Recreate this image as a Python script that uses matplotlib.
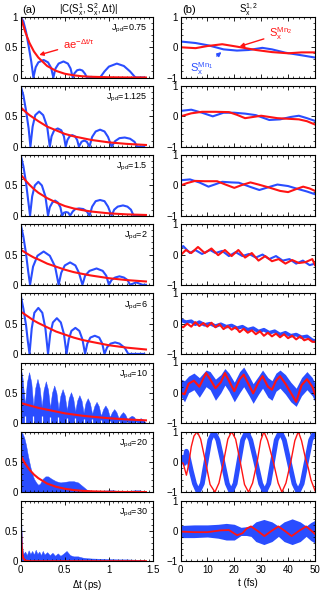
import numpy as np
import matplotlib.pyplot as plt
from matplotlib.ticker import MultipleLocator

plt.rcParams['font.family'] = ['Liberation Sans', 'DejaVu Sans']
plt.rcParams['mathtext.fontset'] = 'custom'
plt.rcParams['mathtext.rm'] = 'Liberation Sans'
plt.rcParams['mathtext.it'] = 'Liberation Sans:italic'
plt.rcParams['mathtext.sf'] = 'Liberation Sans'

BLUE = '#2a4dff'
RED = '#ff1414'

# ---------------- (a) |C(Sx1,Sx2,dt)| ----------------
jpd = ['0.75', '1.125', '1.5', '2', '6', '10', '20', '30']

# blue curves, panels 1-5 (lines)
a1_t = [0, 0.03, 0.06, 0.09, 0.12, 0.144, 0.17, 0.2, 0.26, 0.31, 0.345, 0.37, 0.395, 0.43, 0.485, 0.535,
        0.565, 0.59, 0.61, 0.64, 0.67, 0.7, 0.73, 0.75, 0.8, 0.85, 0.9, 0.95, 1.0, 1.09, 1.17, 1.24, 1.3, 1.4]
a1_v = [1.0, 0.93, 0.76, 0.52, 0.26, 0.0, 0.17, 0.25, 0.29, 0.25, 0.16, 0.0, 0.15, 0.23, 0.265, 0.23,
        0.15, 0.0, 0.07, 0.12, 0.13, 0.115, 0.06, 0.0, 0.01, 0.0, 0.0, 0.1, 0.18, 0.23, 0.19, 0.1, 0.0, 0.0]

a2_t = [0, 0.03, 0.06, 0.09, 0.11, 0.135, 0.165, 0.21, 0.255, 0.3, 0.33, 0.35, 0.38, 0.42, 0.46, 0.49, 0.51,
        0.53, 0.555, 0.585, 0.615, 0.64, 0.66, 0.69, 0.72, 0.75, 0.78, 0.81, 0.85, 0.9, 0.95, 0.99, 1.03,
        1.07, 1.12, 1.18, 1.24, 1.29, 1.32, 1.4]
a2_v = [1.0, 0.85, 0.6, 0.3, 0.0, 0.33, 0.52, 0.58, 0.52, 0.33, 0.0, 0.17, 0.27, 0.3, 0.27, 0.17, 0.0,
        0.11, 0.17, 0.19, 0.17, 0.11, 0.0, 0.08, 0.1, 0.08, 0.0, 0.16, 0.25, 0.28, 0.25, 0.16, 0.0,
        0.09, 0.14, 0.15, 0.13, 0.08, 0.0, 0.0]

a3_t = [0, 0.03, 0.06, 0.085, 0.106, 0.13, 0.16, 0.2, 0.24, 0.28, 0.31, 0.33, 0.36, 0.39, 0.42, 0.45, 0.47,
        0.49, 0.515, 0.54, 0.56, 0.59, 0.62, 0.66, 0.71, 0.75, 0.78, 0.81, 0.85, 0.9, 0.95, 0.99, 1.03,
        1.06, 1.1, 1.16, 1.21, 1.25, 1.28, 1.4]
a3_v = [1.0, 0.82, 0.55, 0.25, 0.0, 0.32, 0.5, 0.56, 0.5, 0.32, 0.0, 0.14, 0.22, 0.25, 0.22, 0.14, 0.0,
        0.05, 0.06, 0.05, 0.0, 0.07, 0.11, 0.12, 0.11, 0.07, 0.0, 0.15, 0.24, 0.26, 0.24, 0.15, 0.0,
        0.1, 0.15, 0.17, 0.15, 0.1, 0.0, 0.0]

a4_t = [0, 0.03, 0.06, 0.085, 0.106, 0.14, 0.19, 0.26, 0.33, 0.39, 0.43, 0.46, 0.5, 0.56, 0.62, 0.66, 0.70,
        0.73, 0.78, 0.86, 0.93, 0.97, 1.0, 1.03, 1.07, 1.12, 1.17, 1.21, 1.24, 1.31, 1.38, 1.42]
a4_v = [1.0, 0.8, 0.52, 0.22, 0.0, 0.3, 0.48, 0.55, 0.48, 0.3, 0.0, 0.2, 0.32, 0.37, 0.32, 0.2, 0.0,
        0.15, 0.23, 0.27, 0.23, 0.15, 0.0, 0.08, 0.12, 0.14, 0.12, 0.08, 0.0, 0.04, 0.0, 0.0]

a5_t = [0, 0.03, 0.06, 0.08, 0.1, 0.125, 0.155, 0.2, 0.245, 0.28, 0.31, 0.335, 0.365, 0.41, 0.455, 0.49, 0.52,
        0.545, 0.575, 0.62, 0.665, 0.7, 0.73, 0.755, 0.79, 0.84, 0.89, 0.925, 0.95, 0.98, 1.02, 1.07,
        1.12, 1.18, 1.22, 1.4]
a5_v = [0.97, 0.75, 0.48, 0.22, 0.0, 0.42, 0.68, 0.76, 0.68, 0.42, 0.0, 0.33, 0.52, 0.59, 0.52, 0.33, 0.0,
        0.24, 0.38, 0.43, 0.38, 0.24, 0.0, 0.17, 0.27, 0.30, 0.27, 0.17, 0.0, 0.11, 0.17, 0.19,
        0.17, 0.1, 0.0, 0.0]

# filled envelopes, panels 6-8
a6_t = [0.0, 0.02, 0.048, 0.07, 0.095, 0.12, 0.143, 0.165, 0.19, 0.215, 0.238, 0.26, 0.285, 0.31, 0.333,
        0.355, 0.38, 0.405, 0.428, 0.45, 0.475, 0.5, 0.523, 0.545, 0.57, 0.595, 0.618, 0.64, 0.665, 0.69,
        0.713, 0.735, 0.76, 0.785, 0.81, 0.835, 0.86, 0.885, 0.91, 0.935, 0.96, 0.985, 1.01, 1.035, 1.06,
        1.085, 1.11, 1.135, 1.16, 1.185, 1.21, 1.235, 1.26, 1.285, 1.31, 1.335, 1.36, 1.385, 1.42]
a6_v = [0.92, 0.75, 0.3, 0.67, 0.84, 0.67, 0.28, 0.58, 0.73, 0.58, 0.27, 0.55, 0.69, 0.55, 0.25,
        0.5, 0.62, 0.5, 0.23, 0.45, 0.56, 0.45, 0.21, 0.41, 0.51, 0.41, 0.19, 0.37, 0.46, 0.37,
        0.17, 0.33, 0.41, 0.33, 0.15, 0.28, 0.35, 0.28, 0.12, 0.23, 0.29, 0.23, 0.1, 0.18, 0.23,
        0.18, 0.08, 0.14, 0.18, 0.14, 0.06, 0.1, 0.12, 0.1, 0.04, 0.06, 0.08, 0.06, 0.0]
# narrow white slits at the bottom between the J=10 teeth
a6_slit_t = [0.048, 0.143, 0.238, 0.333, 0.428, 0.523, 0.618, 0.713, 0.81, 0.91, 1.01, 1.11, 1.21, 1.31]
a6_slit_h = [0.12, 0.12, 0.11, 0.1, 0.1, 0.09, 0.08, 0.07, 0.06, 0.05, 0.04, 0.03, 0.02, 0.02]

a7_t = [0, 0.02, 0.04, 0.06, 0.08, 0.1, 0.12, 0.15, 0.18, 0.2, 0.22, 0.25, 0.28, 0.31, 0.35, 0.4, 0.45,
        0.5, 0.55, 0.6, 0.65, 0.7, 0.75, 0.8, 0.9, 1.0, 1.05, 1.1, 1.2, 1.3, 1.35, 1.4]
a7_v = [1.0, 0.97, 0.9, 0.78, 0.62, 0.48, 0.35, 0.22, 0.15, 0.12, 0.14, 0.22, 0.26, 0.26, 0.22, 0.18, 0.16,
        0.17, 0.18, 0.18, 0.16, 0.1, 0.04, 0.02, 0.02, 0.03, 0.03, 0.02, 0.02, 0.03, 0.03, 0.01]

a8_t = [0, 0.01, 0.02, 0.03, 0.05, 0.07, 0.09, 0.11, 0.13, 0.15, 0.17, 0.19, 0.21, 0.23, 0.25, 0.27, 0.3,
        0.33, 0.36, 0.39, 0.42, 0.45, 0.48, 0.52, 0.56, 0.6, 0.65, 0.7, 0.75, 0.8, 0.9, 1.0, 1.1, 1.2, 1.3, 1.4]
a8_v = [0.88, 0.5, 0.2, 0.12, 0.16, 0.1, 0.18, 0.12, 0.17, 0.11, 0.19, 0.12, 0.16, 0.1, 0.17, 0.11, 0.15,
        0.1, 0.14, 0.09, 0.13, 0.09, 0.12, 0.17, 0.1, 0.08, 0.08, 0.06, 0.05, 0.045, 0.04, 0.035, 0.03, 0.03,
        0.025, 0.02]

blue_t = [a1_t, a2_t, a3_t, a4_t, a5_t, a6_t, a7_t, a8_t]
blue_v = [a1_v, a2_v, a3_v, a4_v, a5_v, a6_v, a7_v, a8_v]

# red fits a*exp(-dt/tau)
red_t = [0, 0.05, 0.1, 0.15, 0.2, 0.3, 0.4, 0.5, 0.6, 0.7, 0.8, 1.0, 1.2, 1.42]
red_v = [
    [1.0, 0.76, 0.57, 0.43, 0.33, 0.19, 0.11, 0.062, 0.036, 0.02, 0.012, 0.004, 0.001, 0.0],
    [0.65, 0.58, 0.52, 0.47, 0.42, 0.33, 0.27, 0.21, 0.17, 0.14, 0.11, 0.07, 0.045, 0.027],
    [0.68, 0.59, 0.51, 0.44, 0.38, 0.29, 0.22, 0.16, 0.12, 0.092, 0.069, 0.039, 0.022, 0.012],
    [0.58, 0.535, 0.49, 0.45, 0.42, 0.35, 0.30, 0.25, 0.21, 0.18, 0.153, 0.109, 0.078, 0.055],
    [0.70, 0.65, 0.60, 0.55, 0.51, 0.44, 0.37, 0.32, 0.27, 0.23, 0.20, 0.143, 0.104, 0.073],
    [0.33, 0.31, 0.29, 0.27, 0.25, 0.22, 0.19, 0.16, 0.14, 0.12, 0.105, 0.079, 0.059, 0.044],
    [0.6, 0.47, 0.37, 0.29, 0.23, 0.14, 0.089, 0.055, 0.034, 0.021, 0.013, 0.005, 0.002, 0.001],
]
red8_t = [0, 0.01, 0.02, 0.03, 0.05, 0.1, 1.42]
red8_v = [0.6, 0.26, 0.11, 0.05, 0.01, 0.0, 0.0]

# ---------------- (b) Sx^{1,2}(t) ----------------
b1_bt = [0, 5.6, 10.5, 16, 21, 25.4, 30.4, 34, 39, 45.3, 50]
b1_bv = [0.19, 0.14, 0.06, -0.07, -0.11, -0.09, -0.02, -0.07, -0.18, -0.27, -0.34]
b1_rt = [0, 5.6, 10, 15.5, 21, 28, 34, 40, 45, 50]
b1_rv = [0.0, -0.03, 0.04, 0.1, 0.02, -0.09, -0.16, -0.2, -0.17, -0.17]

b2_bt = [0, 4, 8, 12, 16, 20, 24, 28, 33, 37, 41, 44, 47, 50]
b2_bv = [0.18, 0.22, 0.12, 0.0, 0.12, 0.12, 0.09, 0.04, -0.12, -0.1, -0.02, 0.02, -0.06, -0.15]
b2_rt = [0, 4, 8, 13, 18, 21, 24, 27, 30, 33, 36, 40, 44, 47, 50]
b2_rv = [0.0, 0.1, 0.15, 0.15, 0.14, 0.05, -0.06, -0.02, 0.02, -0.02, -0.06, -0.08, -0.1, -0.16, -0.27]

b3_bt = [0, 3.5, 7, 10.4, 13, 15.5, 19, 21.7, 26, 29.3, 33, 36, 40, 43, 47, 50]
b3_bv = [0.17, 0.2, 0.1, -0.04, 0.04, 0.12, 0.1, 0.09, -0.05, -0.15, -0.05, 0.03, -0.02, -0.1, -0.2, -0.29]
b3_rt = [0, 2.5, 5.4, 9, 13.6, 17, 20, 23, 26, 29, 33, 37, 40, 43, 45.6, 48, 50]
b3_rv = [0.0, 0.08, 0.15, 0.14, 0.14, 0.02, -0.08, 0.02, 0.1, 0.03, -0.07, -0.18, -0.22, -0.12, -0.04, -0.1, -0.18]

b4_bt = [0, 1, 3.5, 5.5, 8, 11, 13, 15.5, 18, 20.5, 23, 25.5, 28, 30.5, 33, 35.5, 38, 40.5, 43, 45.5, 48, 50]
b4_bv = [0.2, 0.28, 0.05, 0.15, 0.02, 0.15, 0.05, 0.12, -0.05, 0.08, -0.05, 0.02, -0.1, 0.0, -0.15, -0.05,
         -0.2, -0.15, -0.3, -0.2, -0.35, -0.3]
b4_rt = [0, 2, 4, 6.5, 9, 11.5, 14, 16.5, 19, 21.5, 24, 26.5, 29, 31.5, 34, 36.5, 39, 41.5, 44, 46.5, 49, 50]
b4_rv = [-0.02, 0.15, 0.05, 0.25, 0.05, 0.2, -0.02, 0.15, -0.05, 0.15, -0.1, 0.05, -0.2, -0.05, -0.22,
         -0.15, -0.3, -0.18, -0.28, -0.25, -0.15, -0.35]

b5_bt = [0, 2, 4, 5.5, 7, 9, 11, 13, 15, 17, 19, 21, 23, 25, 27, 29, 31, 33, 35, 37, 39, 41, 43, 45, 47, 49, 50]
b5_bv = [0.13, 0.05, 0.08, -0.02, 0.05, -0.04, 0.0, -0.08, -0.02, -0.1, -0.06, -0.15, -0.1, -0.2, -0.15,
         -0.26, -0.2, -0.3, -0.25, -0.36, -0.3, -0.4, -0.36, -0.45, -0.42, -0.55, -0.57]
b5_rt = [0, 1, 2.5, 4, 5.5, 7, 8.5, 10, 11.5, 13, 14.5, 16, 17.5, 19, 20.5, 22, 23.5, 25, 26.5, 28, 29.5,
         31, 32.5, 34, 35.5, 37, 38.5, 40, 41.5, 43, 44.5, 46, 47.5, 49, 50]
b5_rv = [-0.08, -0.12, 0.0, -0.1, 0.05, -0.08, 0.02, -0.1, 0.03, -0.12, -0.02, -0.18, -0.08, -0.2, -0.12,
         -0.28, -0.17, -0.3, -0.22, -0.35, -0.25, -0.4, -0.3, -0.42, -0.33, -0.45, -0.35, -0.48, -0.4,
         -0.52, -0.42, -0.55, -0.5, -0.6, -0.6]

b6_t = [0, 1.5, 3, 5, 7, 9.5, 11, 13, 15, 16.5, 18, 20, 22, 23.5, 25.5, 27, 29, 30.5, 32.5, 34, 35.5, 37,
        39, 41, 43, 45, 47, 49, 50]
b6_rv = [0.0, -0.05, 0.3, 0.4, 0.2, 0.65, 0.45, 0.15, 0.35, 0.65, 0.4, 0.05, 0.45, 0.6, 0.25, -0.02, 0.35,
         0.55, 0.2, 0.1, 0.4, 0.55, 0.3, 0.0, -0.3, 0.25, 0.45, 0.2, -0.05]
b6_up = [0.45, 0.4, 0.55, 0.65, 0.5, 0.75, 0.7, 0.45, 0.6, 0.8, 0.65, 0.35, 0.7, 0.85, 0.55, 0.3, 0.55,
         0.75, 0.5, 0.4, 0.65, 0.75, 0.6, 0.35, 0.15, 0.5, 0.7, 0.5, 0.3]
b6_lo = [-0.1, -0.3, 0.0, 0.1, -0.15, 0.2, 0.1, -0.25, 0.0, 0.25, 0.05, -0.3, 0.0, 0.2, -0.1, -0.35, -0.05,
         0.15, -0.15, -0.25, 0.05, 0.15, -0.05, -0.3, -0.45, -0.1, 0.1, -0.1, -0.3]

b7_bt = [0, 0.8, 1.5, 2.2, 3, 4, 5.2, 6.6, 8.1, 9.5, 10.9, 12.4, 13.9, 15.7, 17.4, 18.8, 20.3, 21.7, 23.1,
         24.6, 26.1, 28, 29.8, 31.3, 32.8, 34.2, 35.6, 37.1, 38.6, 40.4, 42.2, 43.7, 45.2, 46.8, 48.4, 50]
b7_bv = [0.0, 0.15, -0.05, 0.35, 0.1, -0.3, -0.72, -1.0, -0.72, 0.0, 0.72, 1.0, 0.72, 0.0, -0.72, -1.0,
         -0.72, 0.0, 0.72, 1.0, 0.72, 0.0, -0.72, -1.0, -0.72, 0.0, 0.72, 1.0, 0.72, 0.0, -0.72, -1.0,
         -0.72, 0.0, 0.72, 1.0]
b7_rt = [0, 1, 2.2, 3, 4, 5, 6.2, 7.5, 9.3, 11, 12.8, 14.3, 16, 17.6, 19, 20.5, 22.2, 23.8, 25.3, 26.8,
         28.5, 29.8, 31, 32.4, 34.5, 36.3, 37.7, 39.2, 41, 42.5, 43.8, 45, 46.5, 47.5, 48.5, 50]
b7_rv = [0.0, -0.05, -0.44, -0.1, 0.5, 0.85, 1.0, 0.75, 0.0, -0.75, -1.0, -0.7, 0.0, 0.75, 1.0, 0.75, 0.0,
         -0.75, -1.0, -0.7, 0.0, 0.7, 1.0, 0.7, 0.0, -0.7, -1.0, -0.7, 0.0, 0.7, 1.0, 0.7, 0.1, -0.2, -0.6,
         -0.95]

b8_t = [0, 5, 10, 14, 17, 20, 22.5, 24.5, 26.2, 28, 31, 34, 36.4, 38.5, 41.5, 44.5, 46.7, 48.5, 50]
b8_up = [0.18, 0.2, 0.2, 0.22, 0.25, 0.22, 0.12, 0.14, 0.16, 0.3, 0.38, 0.3, 0.16, 0.3, 0.4, 0.3, 0.16,
         0.28, 0.35]
b8_lo = [-0.22, -0.22, -0.2, -0.24, -0.3, -0.3, -0.15, -0.15, -0.18, -0.35, -0.45, -0.35, -0.18, -0.35,
         -0.45, -0.35, -0.18, -0.32, -0.4]
b8_rt = [0, 5, 10, 15, 18, 21, 23, 24.6, 26.2, 28.7, 31.2, 33.8, 36.4, 38.8, 41.3, 44, 46.7, 48.5, 50]
b8_rv = [-0.02, -0.04, -0.04, 0.02, 0.03, -0.14, -0.08, 0.08, 0.15, 0.0, -0.17, 0.0, 0.15, 0.0, -0.17,
         0.0, 0.15, 0.02, -0.1]

# ---------------- figure ----------------
W, H = 324, 595
fig = plt.figure(figsize=(W / 100, H / 100), dpi=100)


def style(ax):
    ax.tick_params(which='both', direction='in', top=True, right=True, labelsize=7)
    ax.tick_params(axis='y', pad=2)
    ax.tick_params(axis='x', pad=3)
    ax.tick_params(which='major', length=3, width=0.6)
    ax.tick_params(which='minor', length=1.5, width=0.5)
    for s in ax.spines.values():
        s.set_linewidth(0.8)


axL, axR = [], []
for i in range(8):
    top = 17 + 69.1 * i
    h = 60.5
    b = 1 - (top + h) / H
    axL.append(fig.add_axes([20.7 / W, b, 132.3 / W, h / H]))
    axR.append(fig.add_axes([180.5 / W, b, 134.5 / W, h / H]))

for i, ax in enumerate(axL):
    if i < 5:
        ax.plot(blue_t[i], blue_v[i], color=BLUE, lw=1.5)
    else:
        ax.fill_between(blue_t[i], 0, blue_v[i], color=BLUE, lw=0.3, edgecolor=BLUE)
    if i == 5:
        ax.vlines(a6_slit_t, 0, a6_slit_h, color='white', lw=0.9)
    if i < 7:
        ax.plot(red_t, red_v[i], color=RED, lw=1.5)
    else:
        ax.plot(red8_t, red8_v, color=RED, lw=1.5)
    ax.set_xlim(0, 1.5)
    ax.set_ylim(0, 1)
    ax.set_xticks([0, 0.5, 1, 1.5])
    ax.xaxis.set_minor_locator(MultipleLocator(0.05))
    ax.yaxis.set_minor_locator(MultipleLocator(0.1))
    ax.set_yticks([0, 0.5, 1] if i == 0 else [0, 0.5])
    ax.set_yticklabels(['0', '0.5', '1'] if i == 0 else ['0', '0.5'])
    style(ax)
    ax.text(0.96, 0.8, r'$\mathrm{J_{pd}}$=' + jpd[i], transform=ax.transAxes,
            ha='right', va='center', fontsize=6.5)
    if i < 7:
        ax.tick_params(labelbottom=False)
    else:
        ax.set_xticklabels(['0', '0.5', '1', '1.5'])
        ax.set_xlabel(r'$\mathrm{\Delta t}$ (ps)', fontsize=7, labelpad=2)

axL[0].annotate(r'$\mathrm{ae^{-\Delta t/\tau}}$', xy=(0.18, 0.36), xytext=(0.48, 0.56),
                color=RED, fontsize=8, va='center',
                arrowprops=dict(arrowstyle='-|>', color=RED, lw=1, mutation_scale=6))

right_blue = [(b1_bt, b1_bv), (b2_bt, b2_bv), (b3_bt, b3_bv), (b4_bt, b4_bv), (b5_bt, b5_bv)]
right_red = [(b1_rt, b1_rv), (b2_rt, b2_rv), (b3_rt, b3_rv), (b4_rt, b4_rv), (b5_rt, b5_rv)]
for i, ax in enumerate(axR):
    if i < 5:
        ax.plot(*right_blue[i], color=BLUE, lw=1.5 if i < 4 else 2.6)
        ax.plot(*right_red[i], color=RED, lw=1.5)
    elif i == 5:
        ax.fill_between(b6_t, b6_lo, b6_up, color=BLUE, lw=0)
        ax.plot(b6_t, b6_rv, color=RED, lw=1.5)
    elif i == 6:
        ax.plot(b7_bt, b7_bv, color=BLUE, lw=3.5)
        ax.plot(b7_rt, b7_rv, color=RED, lw=1.0)
    else:
        ax.fill_between(b8_t, b8_lo, b8_up, color=BLUE, lw=0)
        ax.plot(b8_rt, b8_rv, color=RED, lw=1.3)
    ax.set_xlim(0, 50)
    ax.set_ylim(-1, 1)
    ax.set_xticks([0, 10, 20, 30, 40, 50])
    ax.xaxis.set_minor_locator(MultipleLocator(2))
    ax.set_yticks([-1, 0, 1])
    ax.yaxis.set_minor_locator(MultipleLocator(0.2))
    style(ax)
    if i < 7:
        ax.tick_params(labelbottom=False)
    else:
        ax.set_xlabel('t (fs)', fontsize=7, labelpad=2)

axR[0].annotate(r'$\mathrm{S_x^{Mn_2}}$', xy=(21, 0.0), xytext=(33, 0.45),
                color=RED, fontsize=8, va='center',
                arrowprops=dict(arrowstyle='-|>', color=RED, lw=1, mutation_scale=6))
axR[0].annotate(r'$\mathrm{S_x^{Mn_1}}$', xy=(16, -0.1), xytext=(3.5, -0.72),
                color=BLUE, fontsize=8, va='center',
                arrowprops=dict(arrowstyle='-|>', color=BLUE, lw=1, mutation_scale=6))

fig.text(22 / W, 1 - 10 / H, '(a)', fontsize=8, va='center')
fig.text(88 / W, 1 - 10 / H, r'$\mathrm{|C(S_x^1,S_x^2,\Delta t)|}$', fontsize=7, ha='center', va='center')
fig.text(182 / W, 1 - 10 / H, '(b)', fontsize=8, va='center')
fig.text(248 / W, 1 - 10 / H, r'$\mathrm{S_x^{1,2}}$', fontsize=7, ha='center', va='center')

fig.savefig('out.png', dpi=100)
